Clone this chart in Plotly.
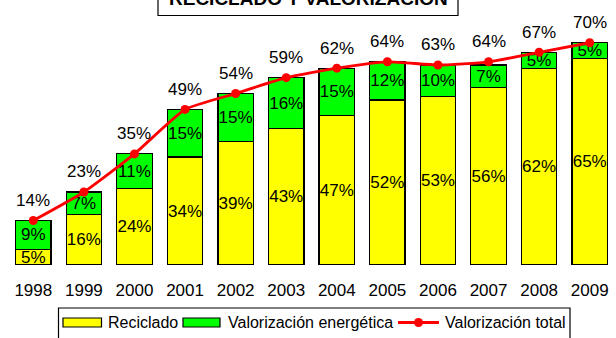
import plotly.graph_objects as go

# Datos: porcentaje de reciclado y valorización por año
years = ["1998", "1999", "2000", "2001", "2002", "2003",
         "2004", "2005", "2006", "2007", "2008", "2009"]
reciclado = [5, 16, 24, 34, 39, 43, 47, 52, 53, 56, 62, 65]
energetica = [9, 7, 11, 15, 15, 16, 15, 12, 10, 7, 5, 5]
total = [14, 23, 35, 49, 54, 59, 62, 64, 63, 64, 67, 70]

FONT = "Liberation Sans, Arial, sans-serif"
YELLOW = "#FFFF00"
GREEN = "#00FF00"
RED = "#FF0000"
LABEL_SIZE = 17

W, H = 616, 338
L, R, T, B = 8, 1, 11, 73
PW, PH = W - L - R, H - T - B


def px_x(px):
    return (px - L) / PW


def px_y(py):
    return (H - B - py) / PH


fig = go.Figure()

fig.add_trace(go.Bar(
    x=years, y=reciclado, name="Reciclado",
    marker=dict(color=YELLOW, line=dict(color="black", width=1.2)),
    text=[f"{v}%" for v in reciclado], textposition="inside",
    insidetextanchor="middle", textangle=0,
    textfont=dict(family=FONT, size=LABEL_SIZE, color="black"),
    hoverinfo="skip", showlegend=False,
))
fig.add_trace(go.Bar(
    x=years, y=energetica, name="Valorización energética",
    marker=dict(color=GREEN, line=dict(color="black", width=1.2)),
    text=[f"{v}%" for v in energetica], textposition="inside",
    insidetextanchor="middle", textangle=0,
    textfont=dict(family=FONT, size=LABEL_SIZE, color="black"),
    hoverinfo="skip", showlegend=False,
))
fig.add_trace(go.Scatter(
    x=years, y=total, name="Valorización total",
    mode="lines+markers",
    line=dict(color=RED, width=2.8, shape="spline", smoothing=0.5),
    marker=dict(color=RED, size=9),
    hoverinfo="skip", showlegend=False, cliponaxis=False,
))

annotations = []
# Etiquetas del total sobre cada punto (x como índice de categoría)
for i, v in enumerate(total):
    annotations.append(dict(
        x=i, y=v, xref="x", yref="y", text=f"{v}%", showarrow=False,
        yshift=20, font=dict(family=FONT, size=LABEL_SIZE, color="black"),
    ))

# Título en recuadro
annotations.append(dict(
    x=px_x(308), y=px_y(-2), xref="paper", yref="paper",
    text="<b>RECICLADO Y VALORIZACIÓN</b>", showarrow=False,
    xanchor="center", yanchor="middle",
    font=dict(family=FONT, size=19, color="black"),
))

shapes = [
    dict(type="rect", xref="paper", yref="paper",
         x0=px_x(158), x1=px_x(458), y0=px_y(15.5), y1=px_y(-30),
         line=dict(color="black", width=1.2), fillcolor="white", layer="below"),
]

# Leyenda dibujada a mano
legend_top, legend_bottom = 308, 350
shapes.append(dict(type="rect", xref="paper", yref="paper",
                   x0=px_x(58.5), x1=px_x(570), y0=px_y(legend_bottom), y1=px_y(legend_top),
                   line=dict(color="black", width=1.2), fillcolor="rgba(0,0,0,0)"))
sw_y0, sw_y1, ty = 318, 327, 322.5
for x0, x1, color in [(63, 101.5, YELLOW), (183, 220, GREEN)]:
    shapes.append(dict(type="rect", xref="paper", yref="paper",
                       x0=px_x(x0), x1=px_x(x1), y0=px_y(sw_y1), y1=px_y(sw_y0),
                       line=dict(color="black", width=1.2), fillcolor=color))
shapes.append(dict(type="line", xref="paper", yref="paper",
                   x0=px_x(398), x1=px_x(439), y0=px_y(ty), y1=px_y(ty),
                   line=dict(color=RED, width=2.8)))
shapes.append(dict(type="circle", xref="paper", yref="paper",
                   x0=px_x(414), x1=px_x(423), y0=px_y(ty + 4.5), y1=px_y(ty - 4.5),
                   line=dict(color=RED, width=0), fillcolor=RED))
for x, label in [(106, "Reciclado"), (226, "Valorización energética"),
                 (443, "Valorización total")]:
    annotations.append(dict(
        x=px_x(x), y=px_y(ty), xref="paper", yref="paper", text=label,
        showarrow=False, xanchor="left", yanchor="middle",
        font=dict(family=FONT, size=16, color="black"),
    ))

fig.update_layout(
    width=W, height=H,
    margin=dict(l=L, r=R, t=T, b=B, pad=0),
    barmode="stack", bargap=0.3,
    plot_bgcolor="white", paper_bgcolor="white",
    showlegend=False,
    uniformtext=dict(minsize=LABEL_SIZE, mode="show"),
    annotations=annotations, shapes=shapes,
    xaxis=dict(type="category", showgrid=False, showline=False, zeroline=False,
               ticks="", tickfont=dict(family=FONT, size=17, color="black"),
               ticklabelstandoff=13, range=[-0.5, 11.5]),
    yaxis=dict(range=[0, 80], visible=False, showgrid=False, zeroline=False),
)

fig.write_html("out.html")
